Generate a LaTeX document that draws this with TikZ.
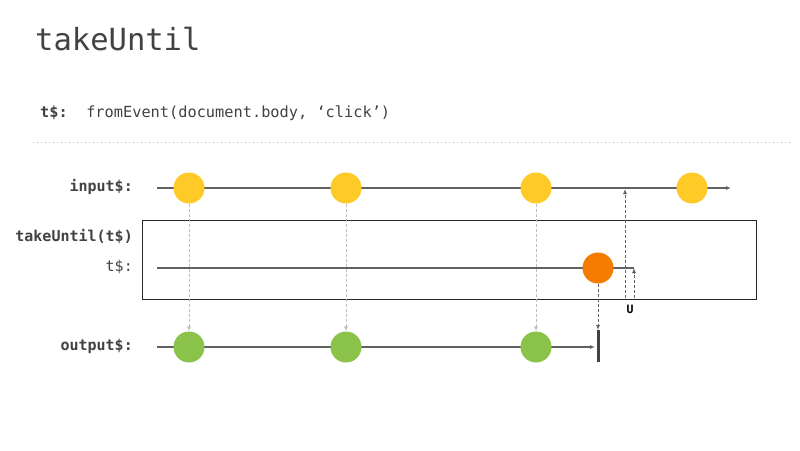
\documentclass[tikz,border=0pt]{standalone}
\usepackage{fontspec}
\setmonofont{DejaVu Sans Mono}
\usetikzlibrary{arrows.meta}
\definecolor{txt}{HTML}{424242}
\definecolor{ln}{HTML}{616161}
\definecolor{yel}{HTML}{FFCA28}
\definecolor{grn}{HTML}{8BC34A}
\definecolor{org}{HTML}{F57C00}
\definecolor{dsh}{HTML}{BDBDBD}
\begin{document}
\begin{tikzpicture}[x=1pt,y=-1pt,
  tl/.style={font=\ttfamily\fontsize{15}{18}\selectfont\bfseries, text=txt, anchor=mid east, inner sep=0pt},
  marble/.style={circle, minimum size=31pt, inner sep=0pt},
  tline/.style={draw=ln, line width=1.1pt},
  tarrow/.style={draw=ln, line width=1.1pt, -{Latex[length=5pt,width=4pt]}},
  flow/.style={draw=dsh, line width=0.9pt, dash pattern=on 3pt off 2pt, -{Latex[length=5pt,width=4pt]}},
  darkflow/.style={draw=ln, line width=0.9pt, dash pattern=on 3pt off 2pt, -{Latex[length=5pt,width=4pt]}}
]
\useasboundingbox (0,0) rectangle (800,450);
\fill[white] (0,0) rectangle (800,450);
% title
\node[anchor=base west, inner sep=0pt, text=txt, font=\ttfamily\fontsize{30.5}{36}\selectfont] (title) at (35,50) {takeUntil};
\node[anchor=base west, inner sep=0pt, text=txt, font=\ttfamily\fontsize{15.3}{18}\selectfont] (def) at (40,117) {\textbf{t\$:}\ \ fromEvent(document.body, ‘click’)};
% dotted separator
\coordinate (sepL) at (33,142);
\coordinate (sepR) at (792,142);
\draw[draw=dsh, line width=1pt, dash pattern=on 1pt off 3pt] (sepL) -- (sepR);
% labels
\node[tl] (lin) at (133,189.5) {input\$:};
\node[tl] (lop) at (133,239.5) {takeUntil(t\$)};
\node[tl, font=\ttfamily\fontsize{15}{18}\selectfont] (lt) at (133,269.5) {t\$:};
\node[tl] (lout) at (133,348.5) {output\$:};
% operator box
\node[draw=black!85, line width=1.1pt, minimum width=614pt, minimum height=79pt, inner sep=0pt, anchor=north west] (op) at (142,220) {};
% timelines
\coordinate (inS) at (157,188);
\coordinate (inE) at (731,188);
\coordinate (tS) at (157,268);
\coordinate (tE) at (634,268);
\coordinate (outS) at (157,347);
\draw[tarrow] (inS) -- (inE);
\draw[tline] (tS) -- (tE);
% marbles
\node[marble, fill=yel] (i1) at (189,188) {};
\node[marble, fill=yel] (i2) at (346,188) {};
\node[marble, fill=yel] (i3) at (536,188) {};
\node[marble, fill=yel] (i4) at (692,188) {};
\node[marble, fill=org] (t1) at (598,268) {};
% completion bar
\coordinate (barT) at (598,330);
\coordinate (barB) at (598,362);
\draw[tarrow] (outS) -- (595,347);
\node[marble, fill=grn] (o1) at (189,347) {};
\node[marble, fill=grn] (o2) at (346,347) {};
\node[marble, fill=grn] (o3) at (536,347) {};
\draw[draw=txt, line width=3pt] (barT) -- (barB);
% flows
\draw[flow] (i1) -- (o1);
\draw[flow] (i2) -- (o2);
\draw[flow] (i3) -- (o3);
\draw[darkflow] (t1) -- (barT);
% unsubscribe
\coordinate (u1) at (625,298);
\coordinate (u1e) at (625,189);
\coordinate (u2) at (634,298);
\draw[darkflow] (u1) -- (u1e);
\draw[darkflow] (u2) -- (tE);
\node[inner sep=0pt, text=black, font=\ttfamily\fontsize{11.5}{13}\selectfont\bfseries] (U) at (630,309) {U};
\end{tikzpicture}
\end{document}
